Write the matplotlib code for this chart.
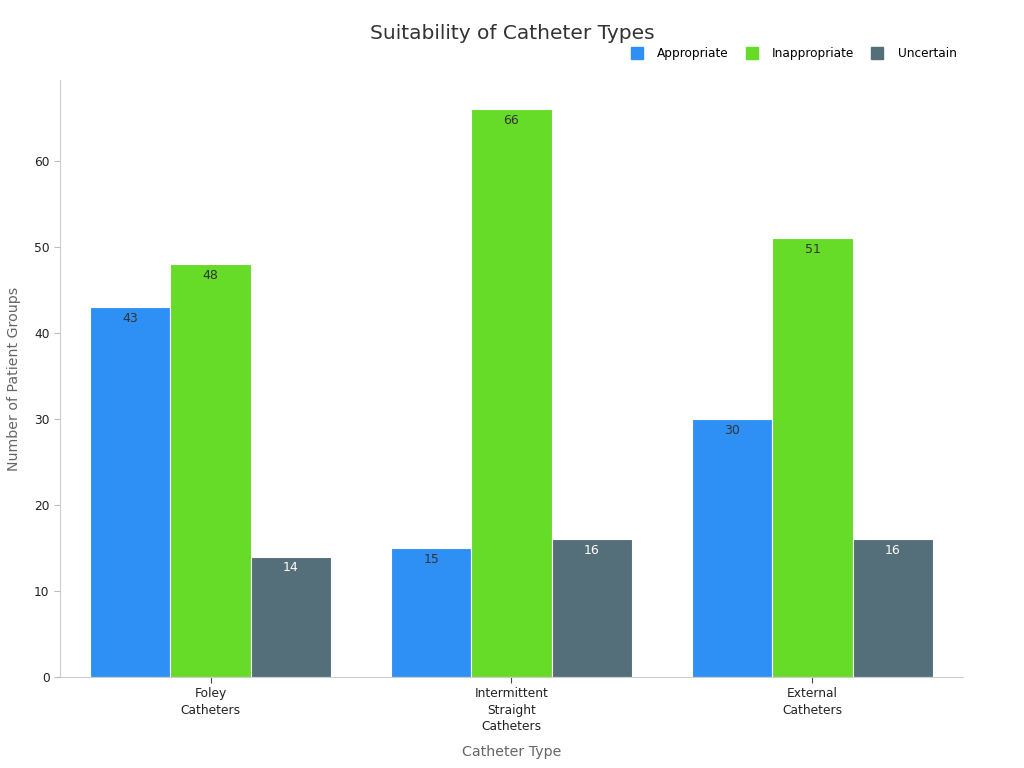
import matplotlib
matplotlib.use("Agg")
import matplotlib.pyplot as plt
import numpy as np
from matplotlib.lines import Line2D

categories = ["Foley\nCatheters", "Intermittent\nStraight\nCatheters", "External\nCatheters"]
series_names = ["Appropriate", "Inappropriate", "Uncertain"]
appropriate = [43, 15, 30]
inappropriate = [48, 66, 51]
uncertain = [14, 16, 16]
colors = ["#2E90F5", "#66DB28", "#546E7A"]
label_colors = ["#333333", "#333333", "#FFFFFF"]

fig = plt.figure(figsize=(10.24, 7.68), dpi=100)
ax = fig.add_axes([0.0586, 0.1185, 0.8818, 0.7773])

x = np.arange(len(categories))
width = 0.8 / 3
all_series = [appropriate, inappropriate, uncertain]
for i, (vals, name) in enumerate(zip(all_series, series_names)):
    pos = x + (i - 1) * width
    bars = ax.bar(pos, vals, width, color=colors[i], edgecolor="white", linewidth=0.8, label=name)
    for b, v in zip(bars, vals):
        ax.text(b.get_x() + b.get_width() / 2, v - 0.55, str(v), ha="center", va="top",
                fontsize=9, color=label_colors[i])

ax.set_xlim(-0.5, 2.5)
ax.set_ylim(0, 69.4)
ax.set_yticks([0, 10, 20, 30, 40, 50, 60])
ax.set_xticks(x)
ax.set_xticklabels(categories, fontsize=8.8, color="#222222", linespacing=1.35)
ax.tick_params(axis="y", labelsize=8.8, colors="#222222", length=4, color="#bbbbbb")
ax.tick_params(axis="x", length=4, color="#444444")
for s in ["top", "right"]:
    ax.spines[s].set_visible(False)
for s in ["left", "bottom"]:
    ax.spines[s].set_color("#cccccc")

ax.set_xlabel("Catheter Type", fontsize=10.2, color="#666666", labelpad=8)
ax.set_ylabel("Number of Patient Groups", fontsize=10.2, color="#666666", labelpad=9)

fig.text(0.5, 0.957, "Suitability of Catheter Types", ha="center", va="center", fontsize=14.5, color="#333333")

handles = [Line2D([0], [0], marker="s", linestyle="none", markersize=8.5, markerfacecolor=c, markeredgecolor=c)
           for c in colors]
fig.legend(handles, series_names, loc="center right", bbox_to_anchor=(0.945, 0.930), ncol=3,
           frameon=False, fontsize=8.7, handletextpad=1.2, columnspacing=1.4, handlelength=1.0)

fig.savefig("out.png", dpi=100)
